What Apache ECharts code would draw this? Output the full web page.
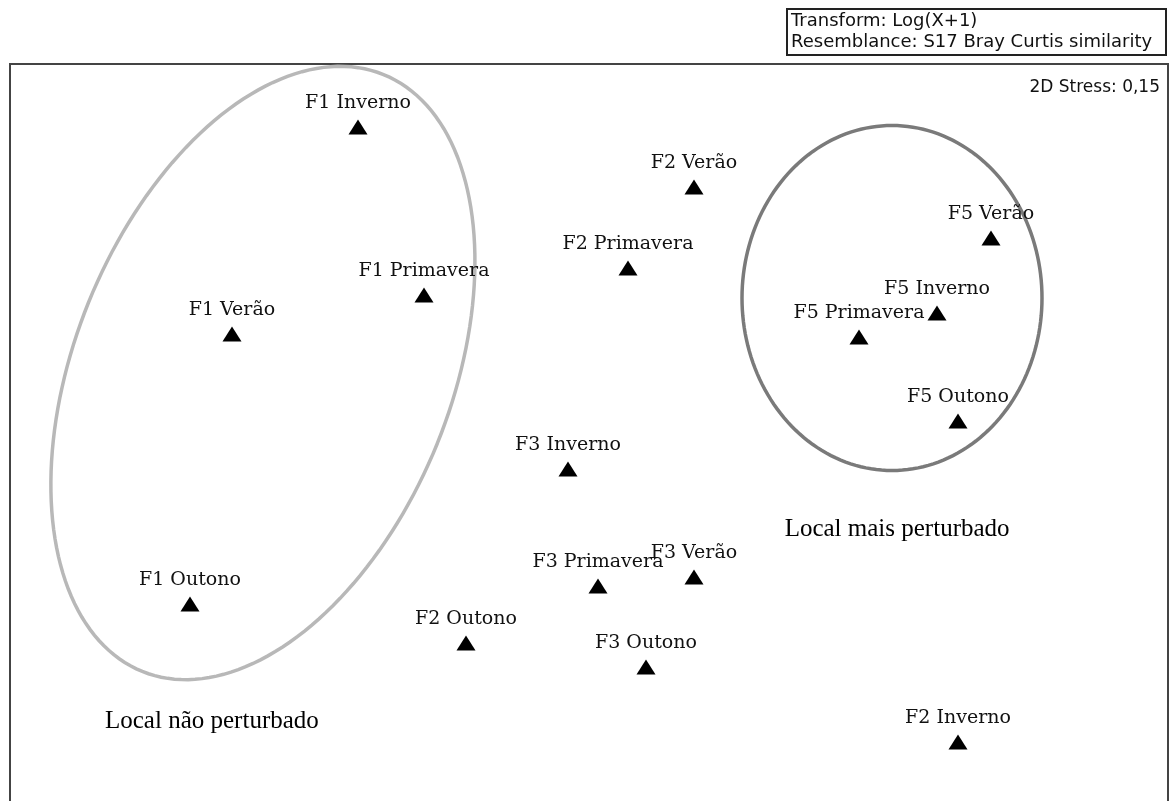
<!DOCTYPE html>
<html>
<head>
<meta charset="utf-8">
<script src="https://cdn.jsdelivr.net/npm/echarts@6/dist/echarts.min.js"></script>
<style>
  html, body { margin: 0; padding: 0; background: #fff; }
  #chart { width: 1170px; height: 801px; }
</style>
</head>
<body>
<div id="chart"></div>
<script>
// MDS points (arbitrary ordination units)
const sampleNames = ['F1 Inverno', 'F2 Verão', 'F5 Verão', 'F2 Primavera', 'F1 Primavera', 'F1 Verão',
  'F5 Inverno', 'F5 Primavera', 'F5 Outono', 'F3 Inverno', 'F3 Verão', 'F3 Primavera',
  'F1 Outono', 'F2 Outono', 'F3 Outono', 'F2 Inverno']
const sampleX = [-0.77, 0.35, 1.34, 0.13, -0.55, -1.19, 1.16, 0.90, 1.23, -0.07, 0.35, 0.03, -1.33, -0.41, 0.19, 1.23]
const sampleY = [0.91, 0.71, 0.54, 0.44, 0.35, 0.22, 0.29, 0.21, -0.07, -0.23, -0.59, -0.62, -0.68, -0.81, -0.89, -1.14]

// group ellipses (centre, semi-axes, rotation in degrees)
const groupNames = ['Local não perturbado', 'Local mais perturbado']
const groupCx = [-1.087, 1.01]
const groupCy = [0.09, 0.34]
const groupRx = [0.627, 0.50]
const groupRy = [1.073, 0.575]
const groupRot = [-22, 0]
const groupLabelX = [-1.257, 1.027]
const groupLabelY = [-1.07, -0.43]
const groupColors = ['#b8b8b8', '#7a7a7a']

const chart = echarts.init(document.getElementById('chart'))

const option = {
  animation: false,
  backgroundColor: '#fff',
  title: [
    {
      text: 'Transform: Log(X+1)\nResemblance: S17 Bray Curtis similarity',
      left: 787,
      top: 9,
      padding: [2, 14, 2, 4],
      borderColor: '#222',
      borderWidth: 2,
      textStyle: { fontFamily: 'DejaVu Sans', fontSize: 18, fontWeight: 'normal', color: '#111', lineHeight: 21 }
    },
    {
      text: '2D Stress: 0,15',
      right: 10,
      top: 79,
      padding: 0,
      textStyle: { fontFamily: 'DejaVu Sans', fontSize: 17, fontWeight: 'normal', color: '#111' }
    }
  ],
  grid: {
    left: 10, right: 2, top: 64, height: 750,
    outerBoundsMode: 'none',
    show: true, borderColor: '#444', borderWidth: 2
  },
  xAxis: { type: 'value', min: -1.93, max: 1.93, show: false },
  yAxis: { type: 'value', min: -1.38, max: 1.12, show: false },
  series: [
    {
      type: 'custom',
      data: groupNames.map((n, i) => [groupCx[i], groupCy[i]]),
      silent: true,
      renderItem(params, api) {
        const i = params.dataIndex
        const phi = groupRot[i] * Math.PI / 180
        const pts = []
        for (let k = 0; k <= 180; k++) {
          const t = k / 180 * Math.PI * 2
          const lx = groupRx[i] * Math.cos(t)
          const ly = groupRy[i] * Math.sin(t)
          pts.push(api.coord([
            groupCx[i] + lx * Math.cos(phi) - ly * Math.sin(phi),
            groupCy[i] + lx * Math.sin(phi) + ly * Math.cos(phi)
          ]))
        }
        const lp = api.coord([groupLabelX[i], groupLabelY[i]])
        return {
          type: 'group',
          children: [
            { type: 'polygon', shape: { points: pts }, style: { fill: 'none', stroke: groupColors[i], lineWidth: 3.5 } },
            {
              type: 'text', x: lp[0], y: lp[1],
              style: {
                text: groupNames[i], fill: '#000', font: '25px "Liberation Serif"',
                textAlign: 'center', textVerticalAlign: 'middle', align: 'center', verticalAlign: 'middle'
              }
            }
          ]
        }
      }
    },
    {
      type: 'scatter',
      symbol: 'triangle',
      symbolSize: [19, 15],
      itemStyle: { color: '#000', opacity: 1 },
      data: sampleNames.map((n, i) => ({ name: n, value: [sampleX[i], sampleY[i]] })),
      label: {
        show: true,
        position: 'top',
        distance: 7,
        formatter: p => p.name,
        fontFamily: 'DejaVu Serif',
        fontSize: 19,
        color: '#111'
      },
      labelLayout: { hideOverlap: false }
    }
  ]
}

chart.setOption(option)
</script>
</body>
</html>
